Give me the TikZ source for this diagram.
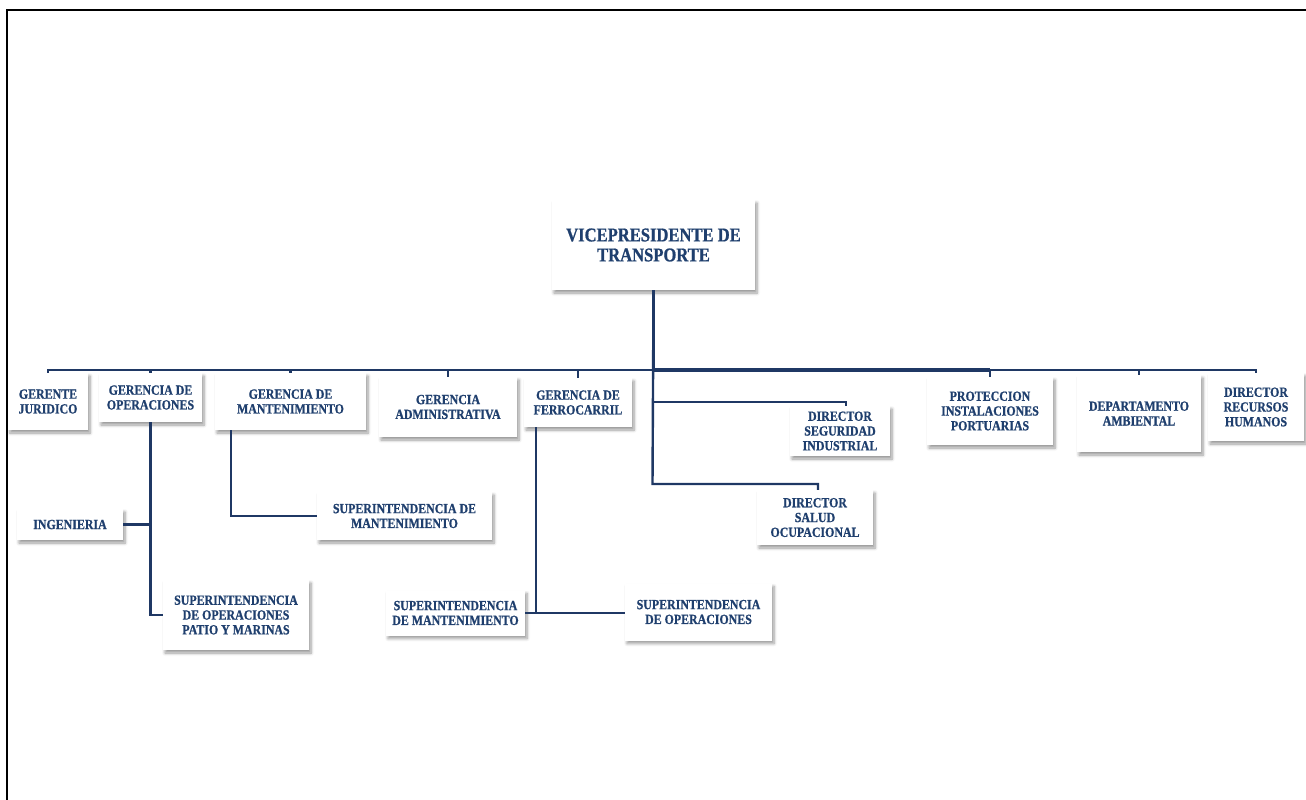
\documentclass[tikz,border=0pt]{standalone}
\usepackage{fontspec}
\setmainfont[FakeStretch=0.85, BoldFeatures={FakeBold=0.8}]{Liberation Serif}
\usetikzlibrary{shadows.blur}
\definecolor{tblue}{HTML}{1F3F6E}
\definecolor{lblue}{HTML}{1F3864}
\begin{document}
\begin{tikzpicture}[x=1pt,y=-1pt,
  box/.style={fill=white, inner sep=0pt, align=center, text=tblue,
    font=\bfseries\fontsize{14}{14.8}\selectfont,
    blur shadow={shadow xshift=2pt, shadow yshift=-3pt, shadow blur steps=6,
      shadow blur radius=3pt, shadow opacity=40}},
  link/.style={draw=lblue, line width=2.4pt},
  thicklink/.style={draw=lblue, line width=4.5pt}]
\path[use as bounding box] (0,0) rectangle (1306,800);
% frame
\draw[black, line width=2pt] (7,800) -- (7,10) -- (1306,10);

% nodes
\node[box, minimum width=203pt, minimum height=90pt,
  font=\bfseries\fontsize{19.5}{20}\selectfont] (vp) at (653.5,245) {VICEPRESIDENTE DE\\TRANSPORTE};
\coordinate (bus) at (653,370);

\node[box, minimum width=80pt, minimum height=57pt] (jur) at (48,401.5) {GERENTE\\JURIDICO};
\node[box, minimum width=103pt, minimum height=49pt] (ope) at (150.5,397.5) {GERENCIA DE\\OPERACIONES};
\node[box, minimum width=151pt, minimum height=57pt] (man) at (290.5,401.5) {GERENCIA DE\\MANTENIMIENTO};
\node[box, minimum width=138pt, minimum height=60pt] (adm) at (448,407) {GERENCIA\\ADMINISTRATIVA};
\node[box, minimum width=108pt, minimum height=49pt] (fer) at (578,402.5) {GERENCIA DE\\FERROCARRIL};
\node[box, minimum width=100pt, minimum height=50pt] (seg) at (840,431) {DIRECTOR\\SEGURIDAD\\INDUSTRIAL};
\node[box, minimum width=116pt, minimum height=55pt] (sal) at (815,517.5) {DIRECTOR\\SALUD\\OCUPACIONAL};
\node[box, minimum width=126pt, minimum height=68pt] (pro) at (990,411) {PROTECCION\\INSTALACIONES\\PORTUARIAS};
\node[box, minimum width=124pt, minimum height=77pt] (amb) at (1139,413.5) {DEPARTAMENTO\\AMBIENTAL};
\node[box, minimum width=96pt, minimum height=68pt] (rh) at (1256,407) {DIRECTOR\\RECURSOS\\HUMANOS};

\node[box, minimum width=106pt, minimum height=31pt] (ing) at (70,524.5) {INGENIERIA};
\node[box, minimum width=146pt, minimum height=70pt] (spm) at (236,615) {SUPERINTENDENCIA\\DE OPERACIONES\\PATIO Y MARINAS};
\node[box, minimum width=175pt, minimum height=48pt] (smant) at (404.5,516) {SUPERINTENDENCIA DE\\MANTENIMIENTO};
\node[box, minimum width=139pt, minimum height=45pt] (fmant) at (455.5,613) {SUPERINTENDENCIA\\DE MANTENIMIENTO};
\node[box, minimum width=147pt, minimum height=57pt] (fope) at (698.5,612) {SUPERINTENDENCIA\\DE OPERACIONES};

% connectors from the vice president
\draw[thicklink] (vp.south |- bus) -- (bus -| pro.north);
\foreach \n in {jur,ope,man,adm,fer,pro,amb,rh}
  \draw[link] (vp.south) -- (vp.south |- bus) -| (\n.north);
\draw[link] (vp.south) -- ([xshift=-162.5pt]sal.north |- 0,484) -| ([xshift=3pt]sal.north);
\draw[link] ([xshift=-187pt,yshift=4pt]seg.north) -| ([xshift=6pt]seg.north);

% sub-connectors
\draw[link] (ope.south) |- (spm.west);
\draw[link] (ing.east) -- (ing.east -| ope.south);
\draw[link] ([xshift=-59.5pt]man.south) |- (smant.west);
\draw[link] ([xshift=-42pt]fer.south) |- (fmant.east);
\draw[link] (fmant.east) -- (fmant.east -| fope.west);
\end{tikzpicture}
\end{document}
